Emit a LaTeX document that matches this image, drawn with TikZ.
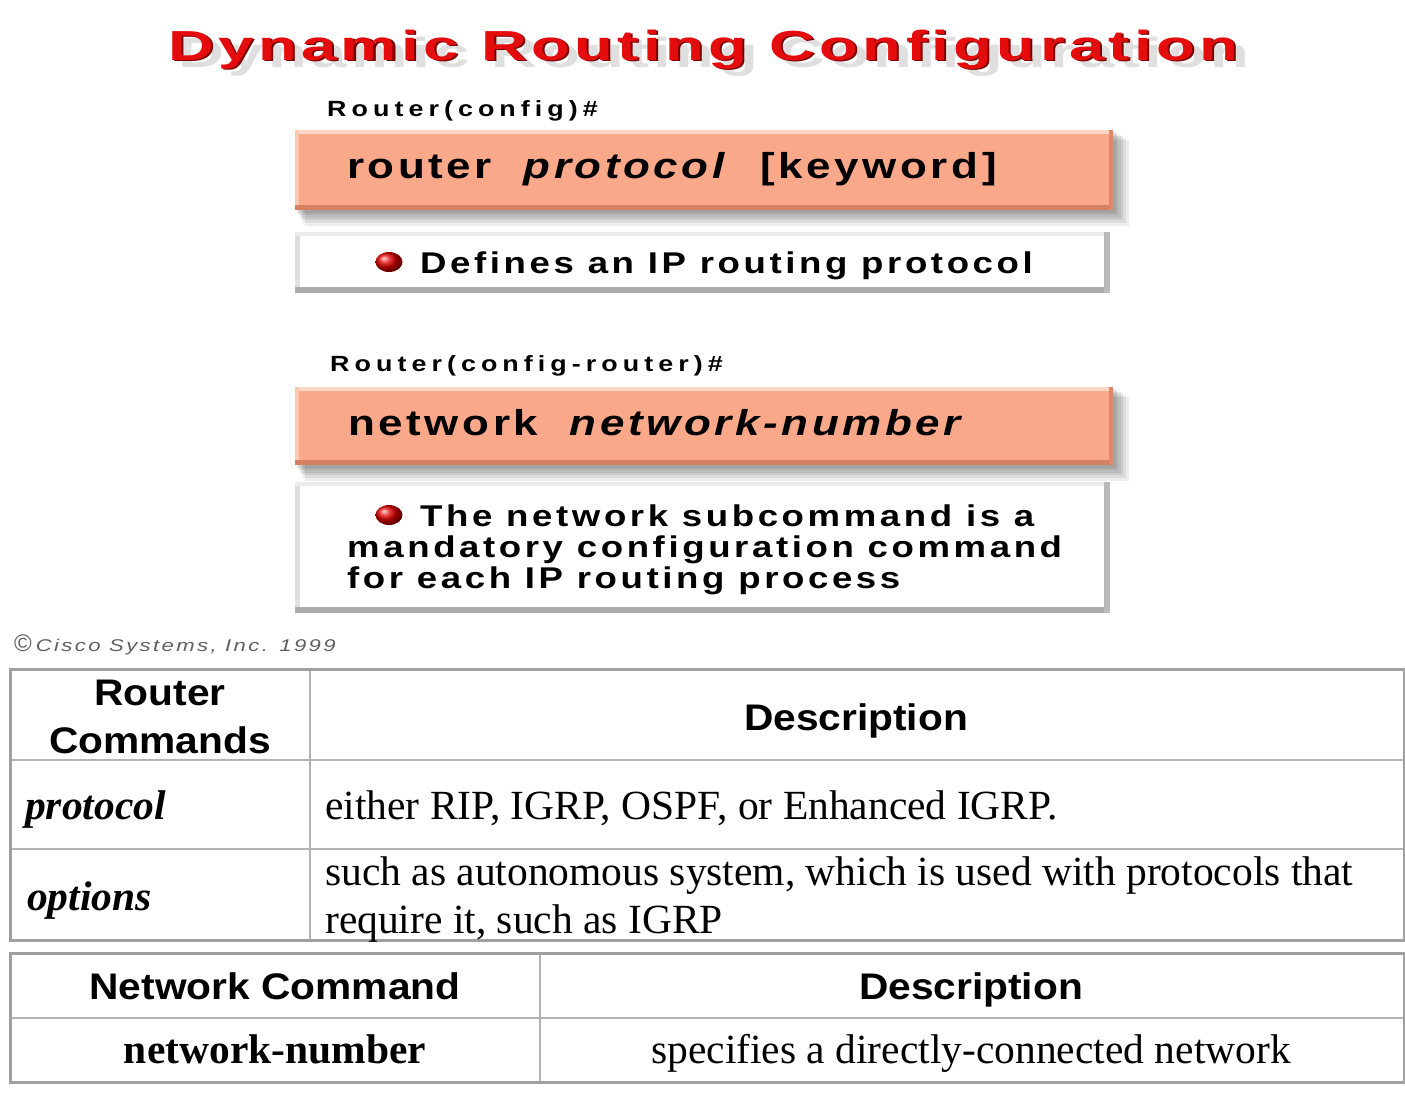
\documentclass[tikz,border=0pt]{standalone}
\usepackage{fontspec}
\usetikzlibrary{shapes.geometric}
\setmainfont{Liberation Serif}
\setsansfont{Liberation Sans}
\newfontfamily\titlefont[LetterSpace=7]{Liberation Sans}
\newfontfamily\cmdfont[FakeStretch=1.22,LetterSpace=10]{Liberation Sans}
\newfontfamily\notefont[FakeStretch=1.22,LetterSpace=12]{Liberation Sans}
\newfontfamily\promptfont[FakeStretch=1.22,LetterSpace=23]{Liberation Sans}
\newfontfamily\copyfont[FakeStretch=1.3,LetterSpace=14]{Liberation Sans}
\definecolor{salmon}{RGB}{250,168,138}
\definecolor{salmonhi}{RGB}{255,214,196}
\definecolor{salmonlo}{RGB}{214,128,98}
\definecolor{titlered}{RGB}{228,12,12}
\definecolor{titledark}{RGB}{120,0,0}
\definecolor{rule}{RGB}{160,160,160}
\tikzset{
  prompt/.style={anchor=base west, inner sep=0pt, font=\promptfont\bfseries\fontsize{22}{22}\selectfont},
  cmdtext/.style={anchor=base west, inner sep=0pt, font=\cmdfont\bfseries\fontsize{36}{36}\selectfont},
  notetext/.style={anchor=base west, inner sep=0pt, font=\notefont\bfseries\fontsize{30}{30}\selectfont},
  bullet/.style={ellipse, inner sep=0pt, minimum width=27pt, minimum height=20pt, ball color=red!90!black},
  headsans/.style={anchor=base, font=\sffamily\bfseries\fontsize{37}{48}\selectfont, align=center, inner sep=0pt},
  bodyserif/.style={anchor=base west, font=\fontsize{41.5}{48}\selectfont, inner sep=0pt},
  keyserif/.style={anchor=base west, font=\bfseries\itshape\fontsize{41.5}{48}\selectfont, inner sep=0pt},
  outer/.style={draw=rule, line width=3pt},
  inner/.style={draw=rule!80, line width=1.2pt},
}
% stacked copies give the title its soft shadow and dark edge
\newcommand{\titlestring}{Dynamic Routing Configuration}
\newcommand{\layer}[3]{\makebox[0pt][l]{\hspace*{#1}\raisebox{#2}{\textcolor{#3}{\titlestring}}}}
\newcommand{\titleblock}{%
  \layer{7pt}{-7pt}{gray!25}%
  \layer{1.4pt}{-1.6pt}{titledark}\textcolor{titlered}{\titlestring}}
% soft shadow made of stacked translucent rectangles
\newcommand{\softshadow}[4]{%
  \foreach \k in {1,...,6}{
    \fill[black, opacity=0.07] ({#1+\k*1.6},{#2+\k*1.6}) rectangle ({#3+\k*2.6},{#4+\k*2.6});
  }%
}
% bevelled salmon command bar
\newcommand{\cmdbar}[4]{%
  \softshadow{#1}{#2}{#3}{#4}
  \fill[salmon] (#1,#2) rectangle (#3,#4);
  \fill[salmonhi] (#1,#2) rectangle (#3,{#2+4});
  \fill[salmonhi!70!salmon] (#1,#2) rectangle ({#1+4},#4);
  \fill[salmonlo] (#1,{#4-5}) rectangle (#3,#4);
  \fill[salmonlo!80!salmon] ({#3-4},#2) rectangle (#3,#4);
}
% bevelled white note panel
\newcommand{\notepanel}[4]{%
  \fill[white] (#1,#2) rectangle (#3,#4);
  \fill[gray!25] (#1,#2) rectangle ({#1+5},#4);
  \fill[gray!15] (#1,#2) rectangle (#3,{#2+4});
  \fill[gray!65] (#1,{#4-6}) rectangle (#3,#4);
  \fill[gray!55] ({#3-6},#2) rectangle (#3,#4);
}
\begin{document}
\begin{tikzpicture}[x=1pt,y=-1pt]
\useasboundingbox[fill=white] (0,0) rectangle (1405,1100);

% ---- title ----
\node[anchor=base west, inner sep=0pt, font=\titlefont\bfseries\fontsize{42}{42}\selectfont] (title) at (168,60) {\scalebox{1.51}[1]{\titleblock}};

% ---- first command ----
\node[prompt] (p1) at (327,116) {Router(config)\#};
\cmdbar{295}{130}{1113}{210}
\node[cmdtext] (c1) at (347,178) {router\ \ \textit{protocol}\ \ [keyword]};
\notepanel{295}{232}{1110}{293}
\node[bullet] (b1) at (389,262) {};
\node[notetext] (n1) at (420,273) {Defines an IP routing protocol};

% ---- second command ----
\node[prompt] (p2) at (330,371) {Router(config-router)\#};
\cmdbar{295}{387}{1113}{465}
\node[cmdtext] (c2) at (348,435) {network\ \ \textit{network-number}};
\notepanel{295}{482}{1110}{613}
\node[bullet] (b2) at (389,515) {};
\node[notetext] (n2a) at (420,526) {The network subcommand is a};
\node[notetext] (n2b) at (347,557) {mandatory configuration command};
\node[notetext] (n2c) at (347,588) {for each IP routing process};

% ---- copyright ----
\node[anchor=base west, inner sep=0pt, text=gray!75!black, font=\copyfont\itshape\fontsize{17}{17}\selectfont] (copy) at (14,651) {{\sffamily\upshape\fontsize{24}{24}\selectfont ©}\hspace{4pt}Cisco Systems, Inc. 1999};

% ---- table: router commands ----
\draw[inner] (310,669) -- (310,940);
\draw[inner] (10,760) -- (1404,760);
\draw[inner] (10,849) -- (1404,849);
\draw[outer] (10,669) rectangle (1404,940);
\node[headsans] (h1) at (160,753) {\scalebox{1.1}[1]{Router}\\\scalebox{1.1}[1]{Commands}};
\node[headsans] (h2) at (856,730) {\scalebox{1.1}[1]{Description}};
\node[keyserif] (r1) at (25,819) {protocol};
\node[bodyserif] (d1) at (325,819) {either RIP, IGRP, OSPF, or Enhanced IGRP.};
\node[keyserif] (r2) at (27,910) {options};
\node[bodyserif] (d2a) at (325,885) {such as autonomous system, which is used with protocols that};
\node[bodyserif] (d2b) at (325,933) {require it, such as IGRP};

% ---- table: network command ----
\draw[inner] (540,953) -- (540,1082);
\draw[inner] (10,1018) -- (1404,1018);
\draw[outer] (10,953) rectangle (1404,1082);
\node[headsans] (h3) at (275,999) {\scalebox{1.1}[1]{Network Command}};
\node[headsans] (h4) at (971,999) {\scalebox{1.1}[1]{Description}};
\node[bodyserif, anchor=base, font=\bfseries\fontsize{41.5}{48}\selectfont] (r3) at (275,1063) {network-number};
\node[bodyserif, anchor=base] (d3) at (971,1063) {specifies a directly-connected network};
\end{tikzpicture}
\end{document}
